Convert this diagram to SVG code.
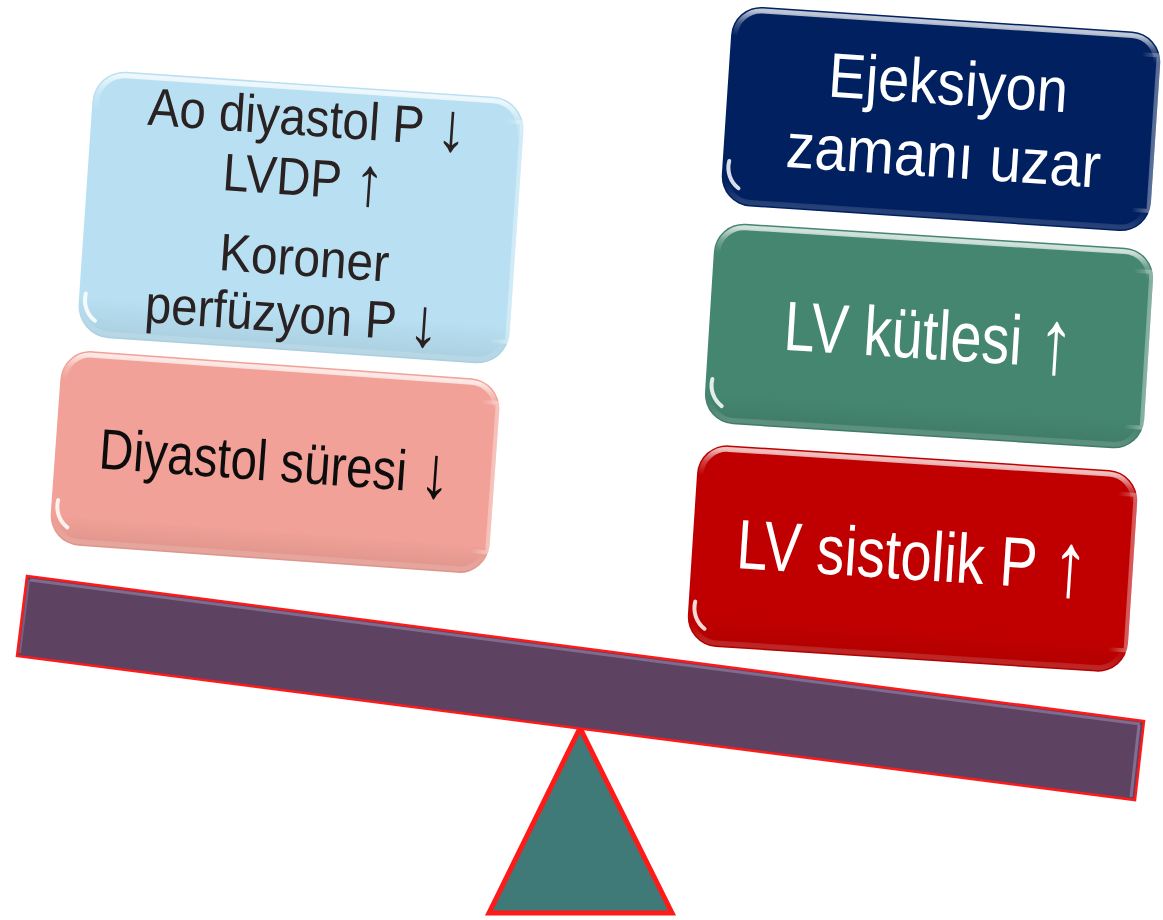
<svg xmlns="http://www.w3.org/2000/svg" width="1163" height="920" viewBox="0 0 1163 920">
  <defs>
    <linearGradient id="gTop" x1="0" y1="0" x2="0" y2="1">
      <stop offset="0" stop-color="#ffffff" stop-opacity="0.75"/>
      <stop offset="0.07" stop-color="#ffffff" stop-opacity="0.25"/>
      <stop offset="0.14" stop-color="#ffffff" stop-opacity="0"/>
      <stop offset="0.9" stop-color="#ffffff" stop-opacity="0"/>
      <stop offset="1" stop-color="#ffffff" stop-opacity="0.15"/>
    </linearGradient>
    <linearGradient id="gRight" x1="0" y1="0" x2="1" y2="0">
      <stop offset="0" stop-color="#ffffff" stop-opacity="0"/>
      <stop offset="0.96" stop-color="#ffffff" stop-opacity="0"/>
      <stop offset="1" stop-color="#ffffff" stop-opacity="0.35"/>
    </linearGradient>
    <linearGradient id="gShade" x1="0" y1="0" x2="0" y2="1">
      <stop offset="0" stop-color="#000000" stop-opacity="0"/>
      <stop offset="0.85" stop-color="#000000" stop-opacity="0"/>
      <stop offset="1" stop-color="#000000" stop-opacity="0.08"/>
    </linearGradient>
    <style>
      .hl { fill: none; stroke: url(#gTop); stroke-width: 5; }
      .hr { fill: none; stroke: url(#gRight); stroke-width: 4; }
      .sh { fill: url(#gShade); }
      .glint { fill: none; stroke: #ffffff; stroke-opacity: 0.85; stroke-width: 4; stroke-linecap: round; }
      text { font-family: "Liberation Sans", Arial, sans-serif; text-anchor: middle; }
      .dk { fill: #2a2222; }
      .bk { fill: #0d0d0d; }
      .wt { fill: #ffffff; }
    </style>
  </defs>
  <rect width="1163" height="920" fill="#ffffff"/>

  <!-- fulcrum -->
  <g id="fulcrum">
    <polygon points="580,728 489,913 672,913" fill="#3f7a78" stroke="#ff1a1a" stroke-width="5" stroke-linejoin="miter"/>
  </g>

  <!-- beam -->
  <g id="beam">
    <polygon points="27,576 1144,721 1135,800 17,656" fill="#5e4262" stroke="#ff1a1a" stroke-width="2.5" stroke-linejoin="miter"/>
    <polyline points="30,580 1140,724" fill="none" stroke="#9d8cb0" stroke-width="3" stroke-opacity="0.55"/>
    <polyline points="1139,725 1131,797" fill="none" stroke="#9d8cb0" stroke-width="3" stroke-opacity="0.6"/>
    <polyline points="29,580 20,653" fill="none" stroke="#9d8cb0" stroke-width="2" stroke-opacity="0.4"/>
  </g>

  <!-- left: blue box -->
  <g id="box-ao" transform="translate(301 217.5) rotate(3.9)">
    <rect x="-216" y="-133.5" width="432" height="267" rx="32" fill="#b8e0f2"/>
    <rect class="sh" x="-216" y="-133.5" width="432" height="267" rx="32"/>
    <rect class="hl" x="-212" y="-129.5" width="424" height="259" rx="28"/>
    <rect class="hr" x="-214" y="-110" width="428" height="220"/>
    <path class="glint" d="M -209.5 90.5 A 26 26 0 0 0 -198.5 117"/>
    <text class="dk" x="0" y="-82" font-size="53" textLength="320" lengthAdjust="spacingAndGlyphs">Ao diyastol P <tspan font-size="69" dy="5">↓</tspan></text>
    <text class="dk" x="0" y="-22" font-size="53" textLength="162" lengthAdjust="spacingAndGlyphs">LVDP <tspan font-size="69" dy="5">↑</tspan></text>
    <text class="dk" x="6" y="58" font-size="53" textLength="170" lengthAdjust="spacingAndGlyphs">Koroner</text>
    <text class="dk" x="-2" y="115" font-size="53" textLength="295" lengthAdjust="spacingAndGlyphs">perfüzyon P <tspan font-size="69" dy="5">↓</tspan></text>
  </g>

  <!-- left: pink box -->
  <g id="box-diyastol" transform="translate(275 462) rotate(4.1)">
    <rect x="-220" y="-97.5" width="440" height="195" rx="30" fill="#f1a197"/>
    <rect class="sh" x="-220" y="-97.5" width="440" height="195" rx="30"/>
    <rect class="hl" x="-216" y="-93.5" width="432" height="187" rx="26"/>
    <rect class="hr" x="-218" y="-75" width="436" height="150"/>
    <path class="glint" d="M -213.5 53.5 A 26 26 0 0 0 -202.5 80"/>
    <text class="bk" x="0" y="19" font-size="57" textLength="352" lengthAdjust="spacingAndGlyphs">Diyastol süresi <tspan font-size="74" dy="5">↓</tspan></text>
  </g>

  <!-- right: navy box -->
  <g id="box-ejeksiyon" transform="translate(941 119) rotate(3.8)">
    <rect x="-215" y="-100" width="430" height="200" rx="30" fill="#002060"/>
    <rect class="hl" x="-211" y="-96" width="422" height="192" rx="26"/>
    <rect class="hr" x="-213" y="-78" width="426" height="156"/>
    <path class="glint" d="M -208.5 56 A 26 26 0 0 0 -197.5 82.5"/>
    <text class="wt" x="5" y="-15" font-size="63" textLength="240" lengthAdjust="spacingAndGlyphs">Ejeksiyon</text>
    <text class="wt" x="5" y="58" font-size="63" textLength="315" lengthAdjust="spacingAndGlyphs">zamanı uzar</text>
  </g>

  <!-- right: green box -->
  <g id="box-kutle" transform="translate(929 336) rotate(3.6)">
    <rect x="-220" y="-100.5" width="440" height="201" rx="30" fill="#458670"/>
    <rect class="sh" x="-220" y="-100.5" width="440" height="201" rx="30"/>
    <rect class="hl" x="-216" y="-96.5" width="432" height="193" rx="26"/>
    <rect class="hr" x="-218" y="-78" width="436" height="156"/>
    <path class="glint" d="M -213.5 56.5 A 26 26 0 0 0 -202.5 83"/>
    <text class="wt" x="0" y="23" font-size="70" textLength="290" lengthAdjust="spacingAndGlyphs">LV kütlesi <tspan font-size="91" dy="6">↑</tspan></text>
  </g>

  <!-- right: red box -->
  <g id="box-sistolik" transform="translate(912.5 558.5) rotate(3.7)">
    <rect x="-220.5" y="-101" width="441" height="202" rx="30" fill="#c00000"/>
    <rect class="sh" x="-220.5" y="-101" width="441" height="202" rx="30"/>
    <rect class="hl" x="-216.5" y="-97" width="433" height="194" rx="26"/>
    <rect class="hr" x="-218.5" y="-78" width="437" height="156"/>
    <path class="glint" d="M -214 57 A 26 26 0 0 0 -203 83.5"/>
    <text class="wt" x="0" y="21" font-size="70" textLength="352" lengthAdjust="spacingAndGlyphs">LV sistolik P <tspan font-size="91" dy="6">↑</tspan></text>
  </g>
</svg>
